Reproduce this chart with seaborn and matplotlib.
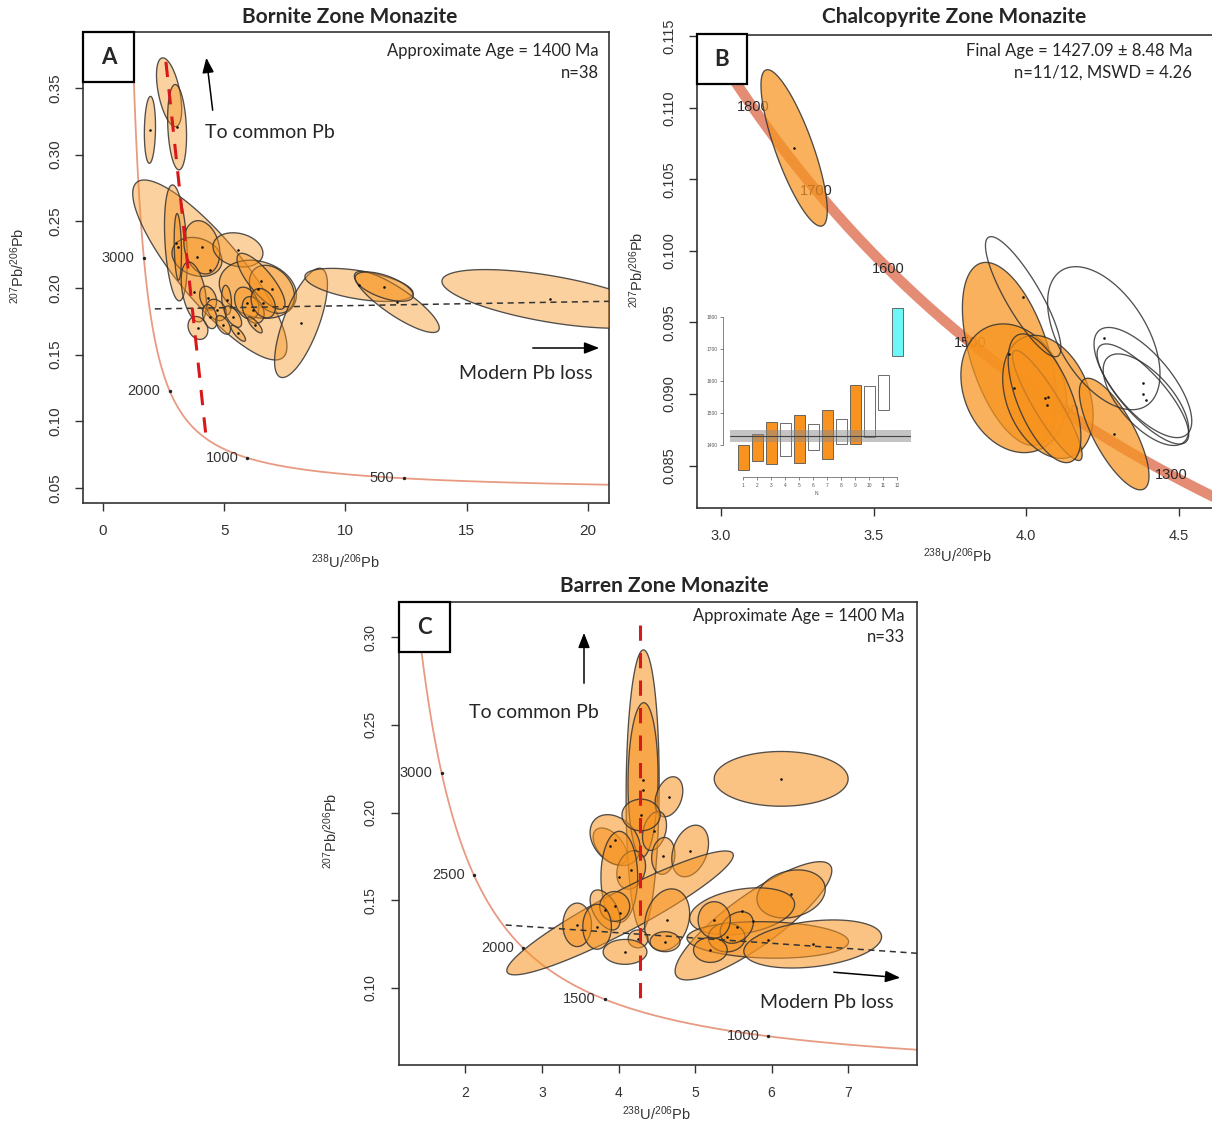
import numpy as np
import matplotlib
matplotlib.use("Agg")
import matplotlib.pyplot as plt
from matplotlib.patches import Polygon, Rectangle
from matplotlib.colors import to_rgba
import seaborn as sns

# -----------------------
# DATA
# -----------------------
# ellipse = centre x, centre y, half x-extent, half y-extent, error correlation

# panel A - bornite zone
A_x = [1.94, 2.73, 3.06, 4.41, 3.01, 3.88, 4.08, 5.57, 6.39, 6.97, 6.52, 3.75, 3.92, 8.17,
       10.56, 12.12, 11.6, 18.43, 4.34, 5.10, 4.69, 5.93, 6.20, 5.37, 5.58, 6.27, 4.41, 6.61,
       4.96, 3.09]
A_y = [0.3186, 0.3468, 0.3206, 0.2135, 0.2338, 0.2233, 0.2305, 0.2286, 0.199, 0.199, 0.205,
       0.197, 0.170, 0.1738, 0.2023, 0.1895, 0.201, 0.1918, 0.1923, 0.191, 0.1835, 0.1886,
       0.1835, 0.1785, 0.166, 0.1723, 0.1785, 0.1886, 0.1723, 0.2308]
A_a = [0.23, 0.52, 0.39, 3.18, 0.47, 1.03, 0.74, 1.03, 1.59, 0.93, 0.99, 0.52, 0.41, 1.09,
       2.23, 1.75, 1.2, 4.45, 0.35, 0.2, 0.4, 0.5, 0.45, 0.35, 0.3, 0.3, 0.3, 0.5, 0.3, 0.15]
A_b = [0.0251, 0.0258, 0.032, 0.0675, 0.0435, 0.0146, 0.02, 0.0128, 0.0218, 0.018, 0.021,
       0.0225, 0.0086, 0.041, 0.0124, 0.0229, 0.011, 0.022, 0.009, 0.011, 0.008, 0.012, 0.01,
       0.008, 0.006, 0.006, 0.009, 0.011, 0.007, 0.025]
A_rho = [0.1, -0.5, -0.2, -0.85, -0.3, -0.2, -0.2, -0.2, -0.2, -0.3, -0.8, -0.4, -0.2, 0.7,
         -0.5, -0.85, -0.6, -0.6, -0.3, -0.2, -0.3, -0.3, -0.3, -0.6, -0.8, -0.8, -0.3, -0.3,
         -0.5, -0.2]
A_ages = [500, 1000, 2000, 3000]
A_redline_x = [2.6, 4.25]
A_redline_y = [0.3696, 0.089]
A_trend_x = [2.14, 20.9]
A_trend_y = [0.1843, 0.190]

# panel B - chalcopyrite zone (filled = used, open = not used)
B_x = [3.24, 3.945, 3.959, 4.071, 4.069, 4.06, 4.288]
B_y = [0.1072, 0.0928, 0.0904, 0.0898, 0.0892, 0.0897, 0.0872]
B_a = [0.1086, 0.154, 0.173, 0.148, 0.114, 0.119, 0.114]
B_b = [0.00547, 0.0064, 0.0045, 0.0043, 0.00385, 0.0045, 0.0039]
B_rho = [-0.8, -0.5, -0.2, -0.3, -0.9, -0.6, -0.75]
B_open_x = [3.99, 4.254, 4.382, 4.382, 4.392]
B_open_y = [0.0968, 0.0939, 0.0908, 0.0900, 0.0896]
B_open_a = [0.1235, 0.184, 0.16, 0.15, 0.14]
B_open_b = [0.0042, 0.005, 0.00385, 0.0035, 0.0032]
B_open_rho = [-0.85, -0.5, -0.7, -0.8, -0.65]
B_ages = [1300, 1400, 1500, 1600, 1700, 1800]

# inset: weighted mean of 207Pb/206Pb ages
inset_n = list(range(1, 13))
inset_lo = [1322, 1351, 1340, 1366, 1343, 1383, 1357, 1402, 1402, 1424, 1508, 1677]
inset_hi = [1400, 1434, 1472, 1469, 1493, 1466, 1508, 1480, 1587, 1584, 1617, 1826]
inset_kind = ["used", "used", "used", "open", "used", "open", "used", "open", "used",
              "open", "open", "rejected"]
inset_mean = 1429
inset_band = (1409, 1445)

# panel C - barren zone
C_x = [4.315, 4.32, 4.659, 3.89, 3.955, 4.165, 4.01, 4.47, 4.295, 4.585, 4.936, 4.02, 3.825,
       3.95, 3.46, 3.72, 4.635, 4.255, 4.085, 4.608, 5.763, 6.255, 5.615, 5.95, 6.537, 5.413,
       5.544, 5.2, 5.25, 6.125]
C_y = [0.2129, 0.2186, 0.209, 0.1807, 0.1843, 0.1673, 0.1633, 0.1895, 0.1986, 0.1753, 0.1781,
       0.1428, 0.1445, 0.1465, 0.136, 0.1349, 0.1389, 0.128, 0.1206, 0.1264, 0.1383, 0.1536,
       0.1437, 0.1274, 0.1251, 0.1288, 0.1345, 0.1217, 0.1388, 0.2192]
C_a = [0.216, 0.196, 0.181, 0.222, 0.327, 0.188, 0.24, 0.157, 0.25, 0.152, 0.24, 1.48, 0.196,
       0.196, 0.187, 0.187, 0.294, 0.13, 0.286, 0.196, 1.024, 0.446, 0.686, 1.056, 0.9, 0.24,
       0.216, 0.22, 0.21, 0.875]
C_b = [0.0798, 0.044, 0.0114, 0.0105, 0.0145, 0.011, 0.026, 0.0111, 0.009, 0.0105, 0.0147,
       0.0353, 0.0114, 0.0085, 0.0124, 0.0128, 0.0176, 0.0051, 0.0071, 0.0057, 0.0337, 0.0137,
       0.0134, 0.0104, 0.0137, 0.0082, 0.009, 0.0071, 0.0104, 0.0156]
C_rho = [0.05, 0.05, 0.3, -0.5, -0.3, 0.2, 0.0, 0.3, 0.0, 0.1, 0.3, 0.93, -0.5, 0.0, 0.0, 0.0,
         0.2, 0.0, 0.0, 0.0, 0.85, 0.2, 0.3, -0.1, 0.3, 0.0, 0.3, 0.0, 0.0, 0.0]
C_ages = [1000, 1500, 2000, 2500, 3000]
C_redline_x = [4.286, 4.286]
C_redline_y = [0.307, 0.0875]
C_trend_x = [2.525, 7.9]
C_trend_y = [0.1359, 0.1198]

# -----------------------
# CONCORDIA (Tera-Wasserburg)
# -----------------------
L238 = 1.55125e-10
L235 = 9.8485e-10
U85 = 137.88


def concordia(t_ma):
    t = np.asarray(t_ma, dtype=float) * 1e6
    e8 = np.exp(L238 * t) - 1
    e5 = np.exp(L235 * t) - 1
    return 1 / e8, e5 / e8 / U85


curve_ages = np.arange(60, 4600, 5)

# -----------------------
# FIGURE
# -----------------------
W, H = 1212, 1124
sns.set_style("white")
plt.rcParams["font.family"] = ["Liberation Sans", "DejaVu Sans"]
plt.rcParams["mathtext.default"] = "regular"
fig = plt.figure(figsize=(W / 100, H / 100), dpi=100)

ANNOT = ["Lato", "DejaVu Sans"]
ORANGE = "#F7931E"
EDGE = (0.2, 0.2, 0.2, 0.85)
SALMON = "#E89A82"
XLAB = "$^{238}$U/$^{206}$Pb"
YLAB = "$^{207}$Pb/$^{206}$Pb"


def px_axes(left, top, right, bottom):
    return fig.add_axes([left / W, 1 - bottom / H, (right - left) / W, (bottom - top) / H])


def ftext(px, py, s, **kw):
    fig.text(px / W, 1 - py / H, s, **kw)


def draw_ellipses(ax, xs, ys, aa, bb, rr, face, alpha, dots=True):
    th = np.linspace(0, 2 * np.pi, 160)
    for x, y, a, b, r in zip(xs, ys, aa, bb, rr):
        ex = x + a * np.cos(th)
        ey = y + b * (r * np.cos(th) + np.sqrt(1 - r * r) * np.sin(th))
        fc = to_rgba(face, alpha) if face else "none"
        ax.add_patch(Polygon(np.column_stack([ex, ey]), closed=True, facecolor=fc,
                             edgecolor=EDGE, lw=0.95, zorder=3))
    if dots:
        sns.scatterplot(x=xs, y=ys, s=3.5, color="#111111", linewidth=0, ax=ax, zorder=4)


def style_axes(ax, xlim, ylim, xticks, yticks, xfmt, yfmt, fs=10.5):
    ax.set_xlim(xlim)
    ax.set_ylim(ylim)
    ax.set_xticks(xticks)
    ax.set_xticklabels([xfmt.format(v) for v in xticks])
    ax.set_yticks(yticks)
    ax.set_yticklabels([yfmt.format(v) for v in yticks], rotation=90, va="center")
    ax.tick_params(direction="out", length=6, width=1, colors="#333333", labelsize=fs,
                   pad=9, bottom=True, left=True)
    for s in ax.spines.values():
        s.set_visible(True)
        s.set_color("#333333")
        s.set_linewidth(1.2)
    ax.set_xlabel("")
    ax.set_ylabel("")


def letter_box(ax, l, t, r, b, letter):
    rect = Rectangle((l / W, 1 - b / H), (r - l) / W, (b - t) / H, transform=fig.transFigure,
                     facecolor="white", edgecolor="black", lw=1.6, zorder=20)
    fig.patches.append(rect)
    ftext((l + r) / 2, (t + b) / 2, letter, ha="center", va="center", fontsize=16,
          fontweight="bold", family=ANNOT, zorder=21)


def concordia_line(ax, color, lw, alpha=1.0):
    cx, cy = concordia(curve_ages)
    sns.lineplot(x=cx, y=cy, sort=False, estimator=None, color=color, lw=lw, alpha=alpha,
                 ax=ax, zorder=1)


def age_marks(ax, ages):
    mx, my = concordia(ages)
    sns.scatterplot(x=mx, y=my, s=6, color="#222222", linewidth=0, ax=ax, zorder=2)
    for t, x, y in zip(ages, mx, my):
        ax.annotate(str(t), (x, y), xytext=(-6.5, 0), textcoords="offset points",
                    ha="right", va="center", fontsize=10.5, color="#333333", zorder=2)


def arrow(ax, p0, p1):
    ax.annotate("", xy=(p1[0] / W, 1 - p1[1] / H), xytext=(p0[0] / W, 1 - p0[1] / H),
                xycoords="figure fraction", textcoords="figure fraction",
                arrowprops=dict(arrowstyle="-|>,head_length=0.9,head_width=0.35",
                                color="black", lw=1.1), zorder=10)


# -----------------------
# PANEL A
# -----------------------
axA = px_axes(83, 32, 609, 503)
concordia_line(axA, SALMON, 1.3)
age_marks(axA, A_ages)
draw_ellipses(axA, A_x, A_y, A_a, A_b, A_rho, ORANGE, 0.42)
axA.plot(A_trend_x, A_trend_y, color="#333333", lw=1.1, dashes=(4, 3), zorder=5)
axA.plot(A_redline_x, A_redline_y, color="#D7191C", lw=2.2, dashes=(5, 4), zorder=6)
style_axes(axA, (-0.82, 20.87), (0.0387, 0.392), [0, 5, 10, 15, 20],
           [0.05, 0.10, 0.15, 0.20, 0.25, 0.30, 0.35], "{:g}", "{:.2f}", fs=11)
ftext(350, 17, "Bornite Zone Monazite", ha="center", va="center", fontsize=15,
      fontweight="bold", family=ANNOT)
ftext(599, 51, "Approximate Age = 1400 Ma", ha="right", va="center", fontsize=12, family=ANNOT)
ftext(599, 73, "n=38", ha="right", va="center", fontsize=12, family=ANNOT)
ftext(205, 132, "To common Pb", ha="left", va="center", fontsize=14, family=ANNOT)
ftext(593, 373, "Modern Pb loss", ha="right", va="center", fontsize=14, family=ANNOT)
arrow(axA, (213, 113), (206, 55))
arrow(axA, (530, 348), (602, 348))
ftext(346, 562, XLAB, ha="center", va="center", fontsize=10.5, color="#333333")
ftext(18, 266, YLAB, ha="center", va="center", rotation=90, fontsize=10.5, color="#333333")
letter_box(axA, 83, 32, 134, 82, "A")

# -----------------------
# PANEL B
# -----------------------
axB = px_axes(697, 34.5, 1222, 508)
concordia_line(axB, "#E0785C", 7.5, alpha=0.85)
bx, by = concordia(B_ages)
for t, x, y in zip(B_ages, bx, by):
    axB.text(x, y, str(t), ha="center", va="center", fontsize=10.5, color="#2a2a2a", zorder=2)
draw_ellipses(axB, B_x, B_y, B_a, B_b, B_rho, ORANGE, 0.72)
draw_ellipses(axB, B_open_x, B_open_y, B_open_a, B_open_b, B_open_rho, None, 0)
style_axes(axB, (2.922, 4.641), (0.08203, 0.11513), [3.0, 3.5, 4.0, 4.5],
           [0.085, 0.090, 0.095, 0.100, 0.105, 0.110, 0.115], "{:.1f}", "{:.3f}")
ftext(954, 17, "Chalcopyrite Zone Monazite", ha="center", va="center", fontsize=15,
      fontweight="bold", family=ANNOT)
ftext(1192, 51, "Final Age = 1427.09 ± 8.48 Ma", ha="right", va="center", fontsize=12,
      family=ANNOT)
ftext(1192, 73, "n=11/12, MSWD = 4.26", ha="right", va="center", fontsize=12, family=ANNOT)
ftext(958, 556, XLAB, ha="center", va="center", fontsize=10.5, color="#333333")
ftext(637, 270, YLAB, ha="center", va="center", rotation=90, fontsize=10.5, color="#333333")
letter_box(axB, 697, 34.5, 746.5, 83.6, "B")

# inset weighted-mean plot
axI = px_axes(722.7, 305, 911, 477.3)
axI.patch.set_alpha(0)
kind_color = {"used": ORANGE, "open": "white", "rejected": "#6EF7F7"}
axI.bar(inset_n, np.array(inset_hi) - np.array(inset_lo), bottom=inset_lo, width=0.8,
        color=[kind_color[k] for k in inset_kind], edgecolor="#555555", lw=0.6, zorder=2)
axI.fill_between([0.05, 12.96], inset_band[0], inset_band[1], color="#8a8a8a", alpha=0.5,
                 lw=0, zorder=3)
axI.plot([0.05, 12.96], [inset_mean, inset_mean], color="#444444", lw=0.8, zorder=4)
axI.set_xlim(-0.47, 12.98)
axI.set_ylim(1299, 1836)
axI.set_xticks(inset_n)
axI.set_yticks([1400, 1500, 1600, 1700, 1800])
axI.set_yticklabels(["1400", "1500", "1600", "1700", "1800"], rotation=90, va="center")
axI.tick_params(direction="out", length=2.5, width=0.5, labelsize=3.5, pad=1.5,
                colors="#555555", bottom=True, left=True)
for side in ["top", "right"]:
    axI.spines[side].set_visible(False)
axI.spines["left"].set_bounds(1400, 1800)
axI.spines["bottom"].set_bounds(1, 12)
axI.spines["left"].set_position(("data", -0.47))
for side in ["left", "bottom"]:
    axI.spines[side].set_linewidth(0.5)
    axI.spines[side].set_color("#555555")
axI.set_xlabel("N", fontsize=3.5, labelpad=2, color="#555555")

# -----------------------
# PANEL C
# -----------------------
axC = px_axes(398.5, 601.8, 917, 1064.7)
concordia_line(axC, SALMON, 1.3)
age_marks(axC, C_ages)
draw_ellipses(axC, C_x, C_y, C_a, C_b, C_rho, ORANGE, 0.55)
axC.plot(C_trend_x, C_trend_y, color="#333333", lw=1.1, dashes=(4, 3), zorder=5)
axC.plot(C_redline_x, C_redline_y, color="#D7191C", lw=2.2, dashes=(5, 4), zorder=6)
style_axes(axC, (1.125, 7.9), (0.0563, 0.3201), [2, 3, 4, 5, 6, 7],
           [0.10, 0.15, 0.20, 0.25, 0.30], "{:g}", "{:.2f}", fs=10)
ftext(664, 586, "Barren Zone Monazite", ha="center", va="center", fontsize=15,
      fontweight="bold", family=ANNOT)
ftext(905, 616, "Approximate Age = 1400 Ma", ha="right", va="center", fontsize=12, family=ANNOT)
ftext(905, 637, "n=33", ha="right", va="center", fontsize=12, family=ANNOT)
ftext(534, 713, "To common Pb", ha="center", va="center", fontsize=14, family=ANNOT)
ftext(827, 1002, "Modern Pb loss", ha="center", va="center", fontsize=14, family=ANNOT)
arrow(axC, (584, 686), (584, 630))
arrow(axC, (831, 972), (903, 978))
ftext(657, 1114, XLAB, ha="center", va="center", fontsize=10.5, color="#333333")
ftext(331, 831, YLAB, ha="center", va="center", rotation=90, fontsize=10.5, color="#333333")
letter_box(axC, 398.5, 601.8, 450, 652.3, "C")

fig.savefig("out.png", dpi=100)
